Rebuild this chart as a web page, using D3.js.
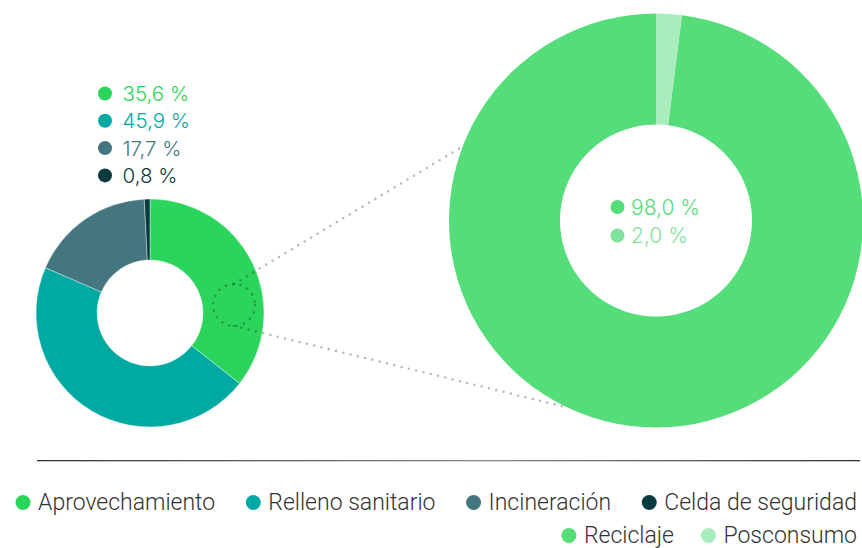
<!DOCTYPE html>
<html>
<head>
<meta charset="utf-8">
<script src="https://cdn.jsdelivr.net/npm/d3@7"></script>
<style>
  html, body { margin: 0; padding: 0; background: #fff; }
  svg { display: block; font-family: Roboto, "Noto Sans", sans-serif; }
  .pct { font-family: Inter, Roboto, sans-serif; font-weight: 300; }
  .leg { font-family: Roboto, sans-serif; font-weight: 300; }
</style>
</head>
<body>
<svg id="chart" width="862" height="548"></svg>
<script>
// Disposición de residuos: distribución general
const destinos = ["Aprovechamiento", "Relleno sanitario", "Incineración", "Celda de seguridad"];
const destinoValores = [35.6, 45.9, 17.7, 0.8];
const destinoColores = ["#2bd45a", "#00aaa3", "#43767f", "#073b40"];

// Detalle del aprovechamiento
const aprovechamiento = ["Reciclaje", "Posconsumo"];
const aprovechamientoValores = [98.0, 2.0];
const aprovechamientoColores = ["#55dd7a", "#a9edbf"];
const aprovechamientoTexto = ["#55dd7a", "#80e39c"];

const fmt = v => d3.format(".1f")(v).replace(".", ",") + " %";

const svg = d3.select("#chart");

// ---- Dona principal ----
const small = { cx: 150, cy: 313, R: 114, r: 53 };
const pieSmall = d3.pie().sort(null).value(d => d.v);
const arcSmall = d3.arc().innerRadius(small.r).outerRadius(small.R);
const dataSmall = destinos.map((n, i) => ({ n, v: destinoValores[i], c: destinoColores[i] }));

svg.append("g")
  .attr("transform", `translate(${small.cx},${small.cy})`)
  .selectAll("path")
  .data(pieSmall(dataSmall))
  .join("path")
  .attr("d", arcSmall)
  .attr("fill", d => d.data.c)
  .attr("stroke", "#fff")
  .attr("stroke-width", 0.4);

// Etiquetas de porcentaje
const lblSmall = svg.append("g").attr("transform", "translate(105,93.5)");
dataSmall.forEach((d, i) => {
  const g = lblSmall.append("g").attr("transform", `translate(0,${i * 27.3})`);
  g.append("circle").attr("r", 7).attr("fill", d.c);
  g.append("text").attr("class", "pct").attr("x", 17.5).attr("y", 7.5)
    .attr("font-size", 20.5).attr("fill", d.c).text(fmt(d.v));
});

// ---- Dona de detalle ----
const big = { cx: 656, cy: 220.5, R: 207, r: 96 };
const offset = 2 * Math.PI * aprovechamientoValores[1] / d3.sum(aprovechamientoValores);
const pieBig = d3.pie().sort(null).value(d => d.v)
  .startAngle(offset).endAngle(2 * Math.PI + offset);
const arcBig = d3.arc().innerRadius(big.r).outerRadius(big.R);
const dataBig = aprovechamiento.map((n, i) => ({ n, v: aprovechamientoValores[i], c: aprovechamientoColores[i], t: aprovechamientoTexto[i] }));

svg.append("g")
  .attr("transform", `translate(${big.cx},${big.cy})`)
  .selectAll("path")
  .data(pieBig(dataBig))
  .join("path")
  .attr("d", arcBig)
  .attr("fill", d => d.data.c);

const lblBig = svg.append("g").attr("transform", "translate(617.5,207)");
dataBig.forEach((d, i) => {
  const g = lblBig.append("g").attr("transform", `translate(0,${i * 28.5})`);
  g.append("circle").attr("r", 7).attr("fill", d.t);
  g.append("text").attr("class", "pct").attr("x", 13.5).attr("y", 7.5)
    .attr("font-size", 21).attr("fill", d.t).text(fmt(d.v));
});

// ---- Lupa y líneas de conexión ----
const lens = { cx: 234, cy: 305, r: 21 };
const dotted = sel => sel.attr("fill", "none")
  .attr("stroke", "rgba(0,0,0,0.27)")
  .attr("stroke-width", 2.6)
  .attr("stroke-linecap", "round")
  .attr("stroke-dasharray", "0 7.5");

svg.append("circle")
  .attr("cx", lens.cx).attr("cy", lens.cy).attr("r", lens.r)
  .call(dotted);

const onBig = deg => [big.cx + big.R * Math.cos(deg * Math.PI / 180),
                      big.cy + big.R * Math.sin(deg * Math.PI / 180)];
const upper = onBig(201);
const lower = onBig(115.5);
svg.append("line")
  .attr("x1", lens.cx).attr("y1", lens.cy - lens.r)
  .attr("x2", upper[0]).attr("y2", upper[1])
  .call(dotted);
svg.append("line")
  .attr("x1", lens.cx).attr("y1", lens.cy + lens.r)
  .attr("x2", lower[0]).attr("y2", lower[1])
  .call(dotted);

// ---- Separador ----
const sepGrad = svg.append("defs").append("linearGradient").attr("id", "sep");
sepGrad.append("stop").attr("offset", "0%").attr("stop-color", "#333");
sepGrad.append("stop").attr("offset", "55%").attr("stop-color", "#8a8a8a");
sepGrad.append("stop").attr("offset", "100%").attr("stop-color", "#333");
svg.append("rect").attr("x", 37).attr("y", 460).attr("width", 823).attr("height", 1.3)
  .attr("fill", "url(#sep)");

// ---- Leyenda ----
// Fila 1 repartida entre los bordes; fila 2 alineada a la derecha.
const legendRows = [
  destinos.map((n, i) => ({ n, c: destinoColores[i] })),
  aprovechamiento.map((n, i) => ({ n, c: aprovechamientoColores[i] }))
];
const rowBaselines = [510, 543];
const dotR = 7.5, textGap = 15, leftEdge = 15.5, rightEdge = 857;
const legend = svg.append("g");
legendRows.forEach((row, ri) => {
  const items = row.map(item => {
    const t = legend.append("text")
      .attr("class", "leg")
      .attr("y", rowBaselines[ri])
      .attr("font-size", 23)
      .attr("fill", "#333")
      .text(item.n);
    return { ...item, t, w: t.node().getComputedTextLength() };
  });
  const widths = items.map(d => dotR + textGap + d.w);
  let gap, x;
  if (ri === 0) {
    gap = (rightEdge - leftEdge - d3.sum(widths)) / (items.length - 1);
    x = leftEdge;
  } else {
    gap = 27;
    x = rightEdge - d3.sum(widths) - gap * (items.length - 1);
  }
  items.forEach((d, i) => {
    const cx = x + dotR;
    legend.append("circle").attr("cx", cx).attr("cy", rowBaselines[ri] - 7.5)
      .attr("r", dotR).attr("fill", d.c);
    d.t.attr("x", cx + textGap);
    x += widths[i] + gap;
  });
});
</script>
</body>
</html>
